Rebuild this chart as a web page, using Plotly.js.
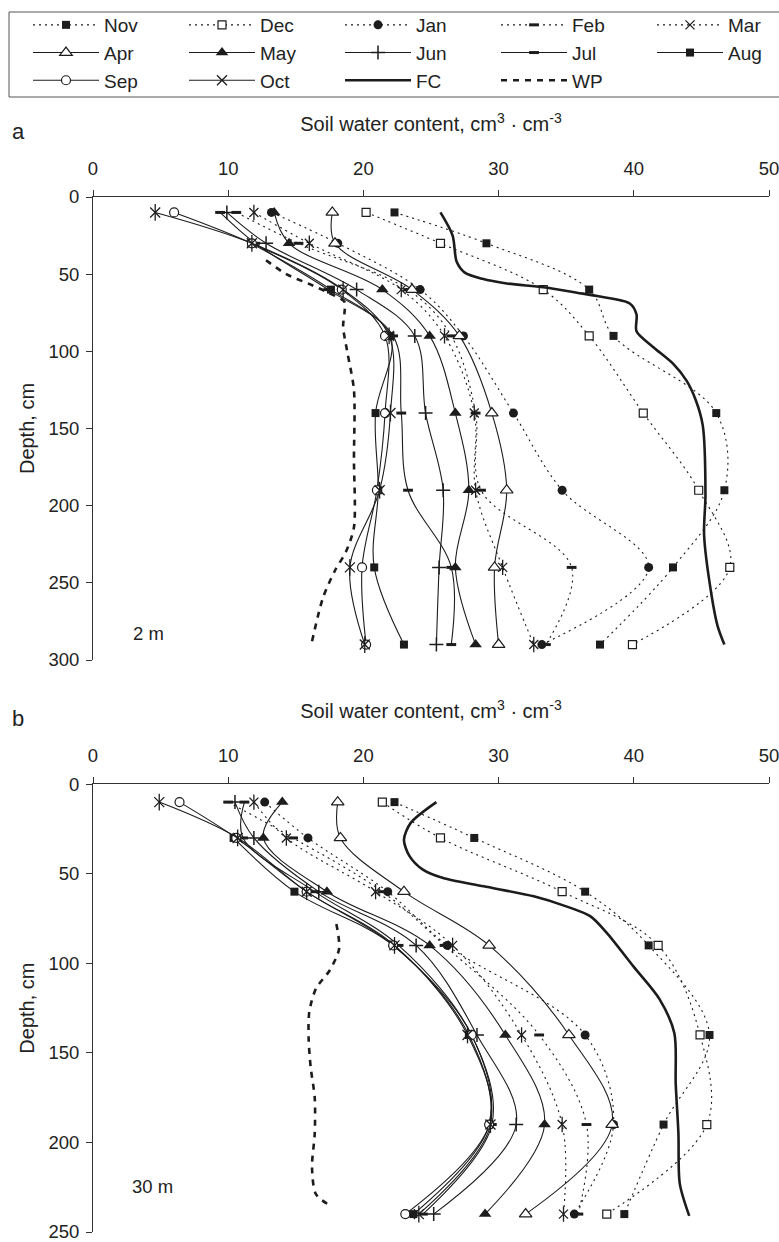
<!DOCTYPE html>
<html>
<head>
<meta charset="utf-8">
<script src="https://cdn.plot.ly/plotly-3.0.1.min.js"></script>
<style>
html,body{margin:0;padding:0;background:#fff;overflow:hidden;}
#chart{width:779px;height:1242px;}
</style>
</head>
<body>
<div id="chart"></div>
<script>
// ---------- DATA ----------
const seriesNames = ['Nov','Dec','Jan','Feb','Mar','Apr','May','Jun','Jul','Aug','Sep','Oct'];

// Panel a (2 m)
const depthA = [10, 30, 60, 90, 140, 190, 240, 290];
const novA = [22.3, 29.1, 36.7, 38.5, 46.1, 46.7, 42.9, 37.5];
const decA = [20.2, 25.7, 33.3, 36.7, 40.7, 44.8, 47.1, 39.9];
const janA = [13.2, 18.1, 24.2, 27.4, 31.1, 34.7, 41.1, 33.2];
const febA = [10.6, 15.2, 23.3, 26.5, 28.3, 28.7, 35.4, 33.5];
const marA = [11.9, 16.0, 22.8, 26.0, 28.2, 28.3, 30.3, 32.6];
const aprA = [17.7, 17.9, 23.6, 27.1, 29.5, 30.6, 29.7, 30.0];
const mayA = [13.4, 14.5, 21.4, 24.9, 26.8, 27.8, 26.8, 28.3];
const junA = [9.9, 12.8, 19.5, 23.8, 24.6, 25.9, 25.6, 25.4];
const julA = [9.4, 12.0, 17.4, 22.2, 22.8, 23.3, 26.5, 26.5];
const augA = [null, 11.7, 17.6, 22.0, 20.9, 21.1, 20.8, 23.0];
const sepA = [6.0, 11.75, 18.4, 21.6, 21.6, 21.0, 19.9, 20.2];
const octA = [4.6, 11.75, 18.5, 21.9, 22.0, 21.2, 19.0, 20.1];
const fcAx = [25.7, 26.6, 26.9, 27.5, 28.8, 30.6, 33.3, 35.8, 37.5, 39.7, 40.2, 40.2, 41.4, 42.9, 43.9, 44.6, 45.1, 45.3, 45.2, 45.75, 46.2, 46.7];
const fcAy = [10, 25, 42, 49, 53, 56, 58.5, 62, 64.5, 69, 76, 87, 97, 108, 119, 132, 148, 193, 219, 258, 278, 290];
const wpAx = [12.8, 14.3, 15.9, 17.4, 18.6, 18.6, 18.5, 18.8, 19.3, 19.3, 19.3, 18.7, 17.9, 17.0, 16.2];
const wpAy = [41, 50, 56, 62, 68, 75, 84, 100, 125, 170, 214, 230, 242, 260, 288];

// Panel b (30 m)
const depthB = [10, 30, 60, 90, 140, 190, 240];
const novB = [22.3, 28.2, 36.4, 41.1, 45.6, 42.2, 39.3];
const decB = [21.4, 25.7, 34.7, 41.8, 44.9, 45.4, 38.0];
const janB = [12.7, 15.9, 21.8, 26.2, 36.4, 38.5, 35.6];
const febB = [10.0, 14.8, 21.4, 26.0, 33.0, 36.5, 35.9];
const marB = [11.9, 14.3, 20.9, 26.6, 31.7, 34.7, 34.8];
const aprB = [18.1, 18.3, 23.0, 29.3, 35.2, 38.4, 32.0];
const mayB = [14.0, 12.6, 17.3, 24.9, 30.5, 33.4, 29.0];
const junB = [10.5, 11.9, 16.7, 23.9, 28.4, 31.3, 25.2];
const julB = [11.2, 11.1, 16.4, 22.6, 28.0, 29.5, 24.4];
const augB = [null, 10.4, 14.9, 22.2, 27.8, 29.3, 23.7];
const sepB = [6.4, 10.6, 15.8, 22.2, 28.0, 29.3, 23.1];
const octB = [4.9, 10.7, 15.8, 22.3, 27.7, 29.4, 24.1];
const fcBx = [25.4, 23.5, 23.0, 23.4, 24.4, 25.9, 28.9, 32.6, 35.0, 36.8, 38.0, 40.0, 41.9, 43.0, 43.1, 43.3, 43.4, 44.1];
const fcBy = [10, 21.6, 31, 40, 47.7, 52.4, 57, 62.6, 68.2, 73.8, 83, 102, 120, 139, 167, 195, 223, 241];
const wpBx = [18.0, 18.2, 17.5, 16.5, 16.0, 15.95, 16.1, 16.4, 16.4, 16.2, 16.5, 17.7];
const wpBy = [78, 92, 104, 114, 127, 142, 158, 175, 195, 214, 229, 236];

const xTicks = [0, 10, 20, 30, 40, 50];
const yTicksA = [0, 50, 100, 150, 200, 250, 300];
const yTicksB = [0, 50, 100, 150, 200, 250];

// ---------- STYLES ----------
const INK = '#1c1c1c';
const DOT = '2px,4px';
const styles = {
  Nov: {dash: DOT, marker: {symbol: 'square', size: 8, color: INK}},
  Dec: {dash: DOT, marker: {symbol: 'square', size: 8, color: '#fff', line: {color: INK, width: 1.2}}},
  Jan: {dash: DOT, marker: {symbol: 'circle', size: 9, color: INK}},
  Feb: {dash: DOT, marker: {symbol: 'line-ew-open', size: 7, color: INK, line: {color: INK, width: 3}}},
  Mar: {dash: DOT, star: true, marker: {symbol: 'x-thin-open', size: 9, color: INK, line: {color: INK, width: 1.3}}},
  Apr: {dash: 'solid', marker: {symbol: 'triangle-up', size: 11, color: '#fff', line: {color: INK, width: 1.2}}},
  May: {dash: 'solid', marker: {symbol: 'triangle-up', size: 11, color: INK}},
  Jun: {dash: 'solid', marker: {symbol: 'cross-thin-open', size: 10, color: INK, line: {color: INK, width: 1.5}}},
  Jul: {dash: 'solid', marker: {symbol: 'line-ew-open', size: 7, color: INK, line: {color: INK, width: 3}}},
  Aug: {dash: 'solid', marker: {symbol: 'square', size: 8, color: INK}},
  Sep: {dash: 'solid', marker: {symbol: 'circle', size: 9, color: '#fff', line: {color: INK, width: 1.2}}},
  Oct: {dash: 'solid', star: true, marker: {symbol: 'x-thin-open', size: 10, color: INK, line: {color: INK, width: 1.3}}}
};
// last legend column gets a narrower entry so the legend fits the page width
const lastColumn = {Mar: true, Aug: true};

const dataA = {Nov: novA, Dec: decA, Jan: janA, Feb: febA, Mar: marA, Apr: aprA, May: mayA, Jun: junA, Jul: julA, Aug: augA, Sep: sepA, Oct: octA};
const dataB = {Nov: novB, Dec: decB, Jan: janB, Feb: febB, Mar: marB, Apr: aprB, May: mayB, Jun: junB, Jul: julB, Aug: augB, Sep: sepB, Oct: octB};

const traces = [];
function addPanel(data, depth, xa, ya, showLeg) {
  seriesNames.forEach(function (n) {
    const s = styles[n];
    const t = {
      type: 'scatter', mode: 'lines+markers', name: n, legendgroup: n, showlegend: showLeg,
      x: data[n], y: depth, xaxis: xa, yaxis: ya,
      line: {color: INK, width: 1.1, dash: s.dash, shape: 'spline', smoothing: 1},
      marker: s.marker, cliponaxis: false
    };
    if (lastColumn[n]) t.legendwidth = 40;
    traces.push(t);
    if (s.star) {
      // vertical stroke that turns the x into a six-pointed asterisk
      traces.push({
        type: 'scatter', mode: 'markers', name: n, legendgroup: n, showlegend: false,
        x: data[n], y: depth, xaxis: xa, yaxis: ya, cliponaxis: false, hoverinfo: 'skip',
        marker: {symbol: 'line-ns-open', size: s.marker.size + 2, color: INK, line: {color: INK, width: 1.3}}
      });
    }
  });
}
function addLimits(fx, fy, wx, wy, xa, ya, showLeg) {
  traces.push({type: 'scatter', mode: 'lines', name: 'FC', legendgroup: 'FC', showlegend: showLeg,
    x: fx, y: fy, xaxis: xa, yaxis: ya, line: {color: INK, width: 2.6, shape: 'spline', smoothing: 0.8}});
  traces.push({type: 'scatter', mode: 'lines', name: 'WP', legendgroup: 'WP', showlegend: showLeg,
    x: wx, y: wy, xaxis: xa, yaxis: ya, line: {color: INK, width: 2.6, dash: '6px,6px', shape: 'spline', smoothing: 0.8}});
}
addPanel(dataA, depthA, 'x', 'y', true);
addLimits(fcAx, fcAy, wpAx, wpAy, 'x', 'y', true);
addPanel(dataB, depthB, 'x2', 'y2', false);
addLimits(fcBx, fcBy, wpBx, wpBy, 'x2', 'y2', false);

// ---------- LAYOUT ----------
const W = 779, H = 1242;
const FONT = 'Liberation Sans, Arial, sans-serif';
const px = v => v / W;
const py = v => 1 - v / H;

function xAxis(anchor) {
  return {
    domain: [px(93), px(769)], range: [0, 50], side: 'top', anchor: anchor,
    tickmode: 'array', tickvals: xTicks, ticktext: xTicks.map(String),
    ticks: 'outside', ticklen: 6, tickwidth: 1, tickcolor: '#333',
    showline: true, linecolor: '#333', linewidth: 1, showgrid: false, zeroline: false,
    tickfont: {size: 18.5, color: '#222', family: FONT}, ticklabelstandoff: 8, ticklabeloverflow: 'allow',
    title: {text: 'Soil water content, cm<sup>3</sup> · cm<sup>-3</sup>', font: {size: 20, color: '#222', family: FONT}, standoff: 20},
    automargin: false, fixedrange: true
  };
}
function yAxis(anchor, dom, maxD, ticks) {
  return {
    domain: dom, range: [maxD, 0], anchor: anchor,
    tickmode: 'array', tickvals: ticks, ticktext: ticks.map(String),
    ticks: 'outside', ticklen: 6, tickwidth: 1, tickcolor: '#333',
    showline: true, linecolor: '#333', linewidth: 1, showgrid: false, zeroline: false,
    tickfont: {size: 18.5, color: '#222', family: FONT}, ticklabelstandoff: 3, ticklabeloverflow: 'allow',
    title: {text: 'Depth, cm', font: {size: 20, color: '#222', family: FONT}, standoff: 8},
    automargin: false, fixedrange: true
  };
}

const layout = {
  width: W, height: H,
  margin: {l: 0, r: 0, t: 0, b: 0, pad: 0},
  paper_bgcolor: '#fff', plot_bgcolor: '#fff',
  font: {family: FONT, color: '#222', size: 18},
  showlegend: true,
  legend: {
    orientation: 'h', x: px(28), y: py(6), xanchor: 'left', yanchor: 'top',
    entrywidthmode: 'pixels', entrywidth: 75, itemwidth: 66,
    borderwidth: 0, bgcolor: 'rgba(0,0,0,0)', font: {size: 19, family: FONT, color: '#222'},
    traceorder: 'normal', itemclick: false, itemdoubleclick: false
  },
  xaxis: xAxis('y'),
  yaxis: yAxis('x', [py(660), py(197)], 300, yTicksA),
  xaxis2: xAxis('y2'),
  yaxis2: yAxis('x2', [py(1232), py(784.2)], 250, yTicksB),
  shapes: [
    {type: 'rect', xref: 'paper', yref: 'paper', x0: px(9), x1: px(800), y0: py(97), y1: py(12),
     line: {color: '#555', width: 1}, fillcolor: 'rgba(0,0,0,0)', layer: 'below'}
  ],
  annotations: [
    {text: 'a', xref: 'paper', yref: 'paper', x: px(10), y: py(131), xanchor: 'left', yanchor: 'middle', showarrow: false, font: {size: 22, color: '#222', family: FONT}},
    {text: 'b', xref: 'paper', yref: 'paper', x: px(10), y: py(718), xanchor: 'left', yanchor: 'middle', showarrow: false, font: {size: 22, color: '#222', family: FONT}},
    {text: '2 m', xref: 'paper', yref: 'paper', x: px(131), y: py(633), xanchor: 'left', yanchor: 'middle', showarrow: false, font: {size: 18.5, color: '#222', family: FONT}},
    {text: '30 m', xref: 'paper', yref: 'paper', x: px(130), y: py(1186), xanchor: 'left', yanchor: 'middle', showarrow: false, font: {size: 18.5, color: '#222', family: FONT}}
  ]
};

Plotly.newPlot('chart', traces, layout, {displayModeBar: false, staticPlot: true});
</script>
</body>
</html>
